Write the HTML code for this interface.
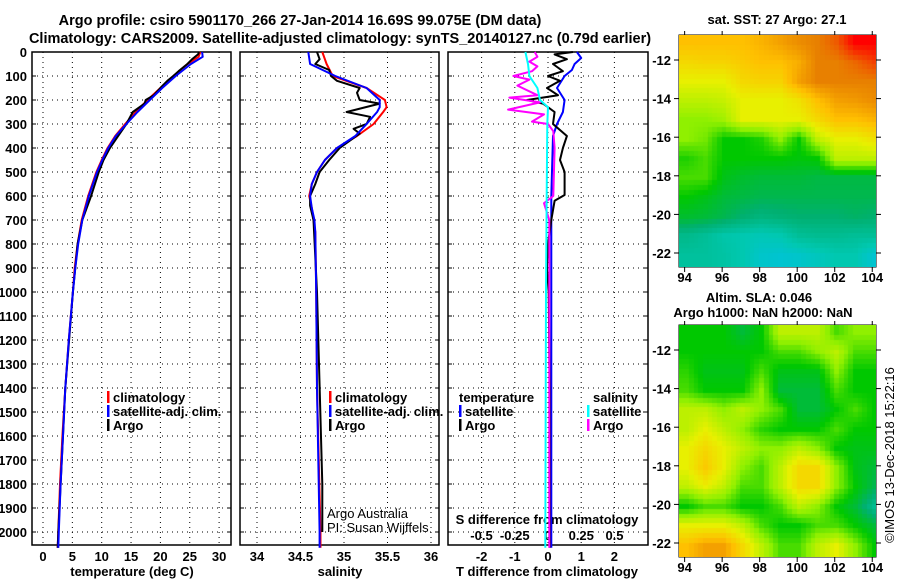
<!DOCTYPE html>
<html><head><meta charset="utf-8"><style>
body{margin:0;background:#fff;width:900px;height:580px;overflow:hidden;font-family:"Liberation Sans",sans-serif}
svg text{font-family:"Liberation Sans",sans-serif;font-weight:bold;font-size:13px;fill:#000}
</style></head><body>
<svg id="s" width="900" height="580" xmlns="http://www.w3.org/2000/svg">
<text x="300" y="25" text-anchor="middle" style="font-size:14.5px">Argo profile: csiro 5901170_266 27-Jan-2014 16.69S 99.075E (DM data)</text>
<text x="340" y="43" text-anchor="middle" style="font-size:14.5px">Climatology: CARS2009. Satellite-adjusted climatology: synTS_20140127.nc (0.79d earlier)</text>
<text x="777" y="24" text-anchor="middle">sat. SST: 27 Argo: 27.1</text>
<text x="759" y="302" text-anchor="middle">Altim. SLA: 0.046</text>
<text x="763" y="317" text-anchor="middle">Argo h1000: NaN h2000: NaN</text>
<text transform="translate(894,455) rotate(-90)" text-anchor="middle" style="font-weight:normal">©IMOS 13-Dec-2018 15:22:16</text>
<text x="132" y="576" text-anchor="middle">temperature (deg C)</text>
<text x="340" y="576" text-anchor="middle">salinity</text>
<text x="547" y="576" text-anchor="middle">T difference from climatology</text>
<text x="547" y="524" text-anchor="middle">S difference from climatology</text>
<text x="327" y="518" style="font-weight:normal">Argo Australia</text>
<text x="327" y="532" style="font-weight:normal">PI: Susan Wijffels</text>
</svg>
<canvas id="c1" width="197" height="232" style="position:absolute;left:679px;top:35px"></canvas>
<canvas id="c2" width="197" height="232" style="position:absolute;left:679px;top:325px"></canvas>
<script>
// ---- data ----
const depthTicks=[0,100,200,300,400,500,600,700,800,900,1000,1100,1200,1300,1400,1500,1600,1700,1800,1900,2000];
const tTicks=[0,5,10,15,20,25,30];
const sTicks=[34,34.5,35,35.5,36];
const dtTicks=[-2,-1,0,1,2];
const dsTicks=[-0.5,-0.25,0,0.25,0.5];
const dsTickLabels=["-0.5","-0.25","0","0.25","0.5"];
const climTdepth=[0,20,50,100,150,200,250,300,350,400,450,500,600,700,800,900,1000,1200,1400,1600,1800,2000,2066];
const climT=[26.8,26.5,24.6,22.2,20,17.8,15.8,14,12.3,11,10,9.1,7.7,6.6,5.9,5.4,5.1,4.4,3.8,3.3,2.9,2.6,2.5];
const satT=[27.1,27.2,25.2,22.6,20.3,18.2,16.1,14.2,12.4,11.1,10.1,9.2,7.8,6.7,6.0,5.5,5.1,4.4,3.8,3.4,3.0,2.7,2.6];
const argoTdepth=[0,10,30,50,80,100,120,150,180,200,215,250,300,350,400,450,500,600,700,800,1000,1400,2000,2066];
const argoT=[26.6,26.4,25.4,24.6,23.1,22.2,21.2,20,18.9,17.5,17.3,15.3,14.2,12.8,11.4,10.3,9.5,8.2,6.7,5.9,5.1,3.8,2.6,2.5];
const climSdepth=[0,50,100,150,200,230,250,300,350,400,450,500,550,600,650,700,750,1000,1400,2000,2066];
const climS=[34.75,34.8,34.87,35.26,35.47,35.49,35.45,35.34,35.15,34.92,34.78,34.69,34.63,34.6,34.63,34.65,34.67,34.68,34.69,34.73,34.73];
const satS=[34.59,34.61,34.9,35.26,35.41,35.41,35.38,35.26,35.13,34.92,34.78,34.69,34.63,34.61,34.63,34.66,34.67,34.68,34.69,34.72,34.72];
const argoSdepth=[0,30,50,75,100,120,150,170,200,215,250,270,300,320,340,400,450,500,550,600,640,700,1000,1800,2000];
const argoS=[34.69,34.72,34.67,34.83,34.85,34.92,35.18,35.15,35.18,35.41,35.03,35.3,35.26,35.11,35.18,34.95,34.83,34.72,34.67,34.61,34.61,34.65,34.69,34.75,34.75];
const dTsatDepth=[0,25,50,75,100,150,200,250,300,350,600,1000,2066];
const dTsat=[0.87,1.0,0.8,0.72,0.5,0.27,0.5,0.45,0.27,0.15,0.1,0.1,0.1];
const dTargoDepth=[0,10,30,50,80,100,120,150,180,200,215,250,300,350,400,450,500,596,620,700,800,900,1000,1400,2066];
const dTargo=[0.75,0.2,0.57,0.15,0.45,0,0.36,-0.03,0.3,-0.63,-0.15,0.2,0.15,0.57,0.45,0.36,0.5,0.5,0.2,0.1,0,-0.03,0.02,0.05,0.05];
const dSsatDepth=[0,50,100,150,200,230,300,600,1000,2066];
const dSsat=[-0.17,-0.15,-0.14,-0.08,-0.06,0,-0.005,-0.01,-0.015,-0.02];
const dSargoDepth=[0,20,40,60,80,100,115,140,180,190,210,240,260,290,300,330,400,600,630,700,1000,2066];
const dSargo=[-0.1,-0.08,-0.14,-0.08,-0.12,-0.26,-0.14,-0.23,-0.08,-0.29,-0.06,-0.3,-0.03,-0.12,0,0.04,0.05,0.04,-0.03,0.01,0.01,0.01];
const mapLats=[-11,-12,-13,-14,-15,-16,-17,-18,-19,-20,-21,-22,-23];
const mapLons=[94,95,96,97,98,99,100,101,102,103,104];
const sstGrid=[
[6,6,6,6,6.2,6.5,6.8,7,7.3,8,8],
[5.5,5.6,5.6,5.8,6,6,6.3,7,7,7.2,7.5],
[5,5,5,5.5,5.6,5.6,6.5,7,7,7,7],
[4.5,4.5,4.6,5,5,5,5.3,6,6.5,6.6,6.8],
[4,4,4.2,5,5,5,5,5.5,6,6,6.2],
[4,3.8,3,3,3.2,4,3,4.5,5,5,5.3],
[3.2,3.5,3,3,3,3,2.9,3,4.5,4.5,4.5],
[3.5,3.5,2.8,2.6,2.5,2.5,2.5,2.4,2.4,2.4,2.4],
[3,2.8,2.5,2.4,2.3,2.3,2.3,2.3,2.3,2.3,2.3],
[2.6,2.5,2.3,2,1.8,1.9,2,2,2,2.1,2],
[1.6,1.4,1.1,1,0.9,1,1.4,1.5,1.5,1.4,1.4],
[1.3,1.3,1.2,1,0.6,0.5,0.6,0.8,1,1,0.5],
[1.3,1.3,1.2,1,0.6,0.5,0.6,0.8,1,1,0.5]];
const slaGrid=[
[3,3,3,2.5,3,4.5,4.5,4.5,3.5,4,4],
[3,3,3,3,3,3.5,3.5,4,4.5,3.5,3.5],
[3.3,2.8,2.8,2.8,3.5,2.8,2.8,2.8,4,3,3],
[3.5,3,3,3,4,2.5,2.5,2.5,3.5,3,3],
[4.5,4.5,4,4.5,4,3.5,2.5,2.5,3,3.5,3],
[4.5,5,4.5,4,3.3,3,3,3,3.5,3,3],
[5,5.5,5,4.5,4,4,4.5,4,3,2.8,2.8],
[5,5.8,5,4,3.5,4.5,5.5,5.5,4,2.8,2.5],
[4.5,5,4.5,3.5,3.5,4.5,5.5,5.5,4,3,2.3],
[3,3.5,3.5,3,3,3.5,4.5,4,3,2.5,1.5],
[5,5,5,4.5,3.5,3,3,3.5,3.5,3,2.5],
[6,6.5,6.5,5.5,4.5,3.5,3.5,4.5,5,4,3],
[6,6.5,6.5,5.5,4.5,3.5,3.5,4.5,5,4,3]];
const argoLon=99.075, argoLat=-16.69;
const latTicks=[-12,-14,-16,-18,-20,-22];
const lonTicks=[94,96,98,100,102,104];

// ---- layout ----
const NS="http://www.w3.org/2000/svg";
const svg=document.getElementById('s');
const Y0=52, PXD=0.24, YB=545;
const yD=d=>Y0+d*PXD;
const panels=[
 {x0:32,x1:231,f:v=>43+v*5.87},
 {x0:240,x1:439,f:v=>257+(v-34)*87},
 {x0:448,x1:648,f:v=>548+v*33.2}
];
const xS=v=>548+v*133;
function el(tag,attrs,parent){const e=document.createElementNS(NS,tag);for(const k in attrs)e.setAttribute(k,attrs[k]);(parent||svg).appendChild(e);return e;}
function txt(x,y,s,anchor){const t=el('text',{x:x,y:y,'text-anchor':anchor||'middle'});t.textContent=s;return t;}

panels.forEach((p,i)=>{
  const g=el('g',{});
  
  
  depthTicks.forEach(d=>{
    const l=el('line',{x1:p.x0,x2:p.x1,y1:yD(d),y2:yD(d),stroke:'#000','stroke-width':1,'stroke-dasharray':'1,4'},g);
    
    
    el('line',{x1:p.x0,x2:p.x0+4,y1:yD(d),y2:yD(d),stroke:'#000'},g);
    el('line',{x1:p.x1-4,x2:p.x1,y1:yD(d),y2:yD(d),stroke:'#000'},g);
  });
  const ticks=i==0?tTicks:i==1?sTicks:dtTicks;
  ticks.forEach(v=>{
    const x=p.f(v);
    const l=el('line',{x1:x,x2:x,y1:Y0,y2:YB,stroke:'#000','stroke-width':1,'stroke-dasharray':'1,4'},g);
    
    
    const t=txt(x,561,String(v));
    
    
  });
  const r=el('rect',{x:p.x0,y:Y0,width:p.x1-p.x0,height:YB-Y0,fill:'none',stroke:'#000','stroke-width':1.5},g);
  
  
});
depthTicks.forEach(d=>{
  const t=txt(27,yD(d)+5,String(d),'end');
  
  
});
dsTicks.forEach((v,i)=>{
  const t=txt(xS(v),540,dsTickLabels[i]);
  
  
});

function series(depths,vals,fx,color,name,w){
  const pts=depths.map((d,i)=>fx(vals[i]).toFixed(1)+','+yD(d).toFixed(1)).join(' ');
  const pl=el('polyline',{points:pts,fill:'none',stroke:color,'stroke-width':w||2,'stroke-linejoin':'round'});
  
  
}
series(climTdepth,climT,panels[0].f,'#f00','temp-climatology-line');
series(argoTdepth,argoT,panels[0].f,'#000','temp-argo-line');
series(climTdepth,satT,panels[0].f,'#00f','temp-satellite-line');
series(climSdepth,climS,panels[1].f,'#f00','sal-climatology-line');
series(argoSdepth,argoS,panels[1].f,'#000','sal-argo-line');
series(climSdepth,satS,panels[1].f,'#00f','sal-satellite-line');
series(dTsatDepth,dTsat,panels[2].f,'#00f','t-diff-satellite-line');
series(dTargoDepth,dTargo,panels[2].f,'#000','t-diff-argo-line');
series(dSargoDepth,dSargo,xS,'#f0f','s-diff-argo-line');
series(dSsatDepth,dSsat,xS,'#0ff','s-diff-satellite-line');

function legend(x,y,color,label){
  const g=el('g',{});
  
  
  el('rect',{x:x,y:y-11,width:2.5,height:12,fill:color},g);
  const t=el('text',{x:x+6,y:y},g);t.textContent=label;
}
legend(107,402,'#f00','climatology');legend(107,416,'#00f','satellite-adj. clim.');legend(107,430,'#000','Argo');
legend(329,402,'#f00','climatology');legend(329,416,'#00f','satellite-adj. clim.');legend(329,430,'#000','Argo');
const lt=txt(459,402,'temperature','start');
legend(459,416,'#00f','satellite');legend(459,430,'#000','Argo');
const ls=txt(593,402,'salinity','start');
legend(587,416,'#0ff','satellite');legend(587,430,'#f0f','Argo');

// ---- maps ----
const cmap=[[0,192,240],[0,200,176],[0,176,112],[0,200,0],[144,240,0],[232,240,0],[255,192,0],[232,128,0],[255,0,0]];
function color(v){v=Math.max(0,Math.min(8,v));const i=Math.min(7,Math.floor(v)),f=v-i;const a=cmap[i],b=cmap[i+1];return 'rgb('+a.map((c,k)=>Math.round(c+(b[k]-c)*f)).join(',')+')';}
const LON0=93.7,LON1=104.2,PXLON=197/(LON1-LON0);
function drawMap(id,grid,top,step,yLat){
  const cv=document.getElementById(id),ctx=cv.getContext('2d');
  for(let lat=-10.5;lat>-23;lat-=step){
    for(let lon=93.5;lon<104.5;lon+=step){
      const r=Math.max(0,Math.min(11.999,-11-lat)),c=Math.max(0,Math.min(9.999,lon-94));
      const r0=Math.floor(r),c0=Math.floor(c),fr=r-r0,fc=c-c0;
      const v=grid[r0][c0]*(1-fr)*(1-fc)+grid[r0][c0+1]*(1-fr)*fc+grid[r0+1][c0]*fr*(1-fc)+grid[r0+1][c0+1]*fr*fc;
      ctx.fillStyle=color(v);
      const x=(lon-LON0)*PXLON,y=yLat(lat)-top;
      ctx.fillRect(Math.floor(x),Math.floor(y),Math.ceil(step*PXLON)+1,Math.ceil(step*19.3)+1);
    }
  }
}
const yTop=lat=>60+(-12-lat)*19.3;
const yBot=lat=>350+(-12-lat)*19.3;
drawMap('c1',sstGrid,35,0.25,yTop);
drawMap('c2',slaGrid,325,0.25,yBot);
[[35,267,yTop,'sst'],[325,557,yBot,'sla']].forEach(([t,b,yf,nm])=>{
  const r=el('rect',{x:679,y:t,width:197,height:b-t,fill:'none',stroke:'#000','stroke-width':1});
  
  
  latTicks.forEach(v=>{
    const y=yf(v);
    el('line',{x1:674,x2:679,y1:y,y2:y,stroke:'#000'});
    el('line',{x1:876,x2:881,y1:y,y2:y,stroke:'#000'});
    const tl=txt(671,y+5,String(v),'end');
    
    
  });
  lonTicks.forEach(v=>{
    const x=679+(v-LON0)*PXLON;
    el('line',{x1:x,x2:x,y1:b,y2:b+5,stroke:'#000'});
    el('line',{x1:x,x2:x,y1:t-4,y2:t,stroke:'#000'});
    const tl=txt(x,b+15,String(v));
    
    
  });
  const c=el('circle',{cx:679+(argoLon-LON0)*PXLON,cy:yf(argoLat),r:5.5,fill:'none',stroke:'#000','stroke-width':1});
  
  
  el('circle',{cx:679+(96.85-LON0)*PXLON,cy:yf(-12.15),r:1,fill:'#000'});
});
</script>
</body></html>
